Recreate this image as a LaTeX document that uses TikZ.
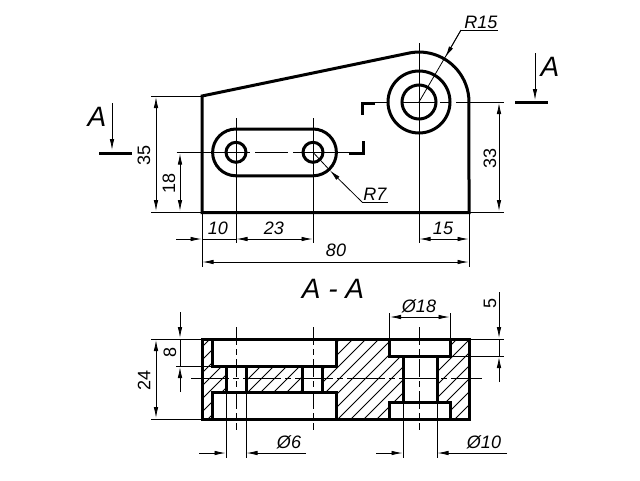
\documentclass[tikz,border=0pt]{standalone}
\usepackage{fontspec}
\setmainfont{Liberation Sans}
\usetikzlibrary{arrows.meta}

\tikzset{
	thick line/.style={line width=3},
	thin line/.style={line width=0.8},
	axis line/.style={line width=0.8, dash pattern=on 18 off 4 on 6 off 4},
	dim line/.style={line width=0.8, -{Latex[length=11,width=4.5]}},
	dim both/.style={line width=0.8, {Latex[length=11,width=4.5]}-{Latex[length=11,width=4.5]}},
	dim text/.style={font=\fontsize{18}{18}\selectfont\itshape, inner sep=0},
	side text/.style={font=\fontsize{18}{18}\selectfont, inner sep=0, rotate=90},
	view text/.style={font=\fontsize{28}{28}\selectfont\itshape, inner sep=0},
}

\begin{document}
\begin{tikzpicture}[x=1pt, y=-1pt]

\useasboundingbox (0,0) rectangle (640,480);
\fill[white] (0,0) rectangle (640,480);

% front view
\draw[thick line] (202,96)--(410.3,52.8) arc[start angle=-100, end angle=0, radius=50]
	--(469,212.5)--(202,212.5)--cycle;

\draw[thick line] (419,102) circle[radius=31];
\draw[thick line] (419,102) circle[radius=17];

\draw[thick line] (236,129)--(313,129) arc[start angle=-90, end angle=90, radius=23.4]
	--(236,175.8) arc[start angle=-270, end angle=-90, radius=23.4]--cycle;

\foreach \a in {236,313}{
	\draw[thick line] (\a,152.3) circle[radius=10];
	\draw[thin line] (\a,118)--(\a,243);
}

\draw[thin line] (419,43)--(419,243);

\draw[thin line] (176.5,152.3)--(250,152.3);
\draw[thin line] (255,152.3)--(288,152.3);
\draw[thin line] (293,152.3)--(349,152.3);
\draw[thin line] (375,102)--(388,102);
\draw[thin line] (401,102)--(437,102);
\draw[thin line] (440,102)--(450,102);
\draw[thin line] (456,102)--(504,102);

% section marks
\draw[thick line] (375,103)--(362.5,103)--(362.5,115);
\draw[thick line] (363,141)--(363,153)--(349,153);
\draw[thick line] (99,153)--(132,153);
\draw[thick line] (515,102.5)--(548,102.5);
\draw[dim line] (112,103)--(112,150);
\draw[dim line] (535,53)--(535,100);
\node[view text] (markleft) at (97,117) {A};
\node[view text] (markright) at (550,67) {A};
\node[view text] (viewtitle) at (333,289) {A - A};

% dimensions of the front view
\foreach \y in {96,212.5}
	\draw[thin line] (151,\y)--(202,\y);
\draw[thin line] (469,212.5)--(504,212.5);
\foreach \x in {202,469}
	\draw[thin line] (\x,212.5)--(\x,267);

\draw[dim both] (156,97)--(156,211);
\draw[dim both] (180,153.5)--(180,211);
\draw[dim both] (499,103)--(499,211);
\draw[dim both] (202.5,262)--(468.5,262);
\draw[dim both] (419.5,239)--(468.5,239);
\draw[dim both] (236.5,239)--(312.5,239);
\draw[dim line] (176,239)--(201.5,239);
\draw[thin line] (201.5,239)--(236.5,239);

\node[side text] (dimleft) at (144,155) {35};
\node[side text] (dimhole) at (169,183) {18};
\node[side text] (dimright) at (490,158) {33};
\node[dim text] (dimten) at (218,228) {10};
\node[dim text] (dimpitch) at (274,228) {23};
\node[dim text] (dimend) at (443,228) {15};
\node[dim text] (dimlength) at (336,250) {80};

\draw[dim line] (461,30)--(445.5,57);
\draw[thin line] (461,30)--(419,102);
\draw[thin line] (461,30)--(498,30);
\node[dim text] (radbig) at (481,22.5) {R15};

\draw[dim line] (362,202)--(330,170.5);
\draw[thin line] (330,170.5)--(313,152.3);
\draw[thin line] (362,202)--(388,202);
\node[dim text] (radsmall) at (375,194) {R7};

% section view
\begin{scope}
	\clip (202,339) rectangle (469,419);
	\foreach \a in {130,143,...,470}
		\draw[thin line] (\a,419)--(\a+80,339);
\end{scope}

\foreach \a/\b/\c/\d in {212/339/336/366, 212/392/336/419, 226/366/246/392, 302/366/322/392,
	389/339/450/356, 389/402/450/419, 403/356/437/402}{
	\fill[white] (\a,\b) rectangle (\c,\d);
	\draw[thick line] (\a,\b) rectangle (\c,\d);
}
\draw[thick line] (202,339) rectangle (469,419);

\draw[thin line, dash pattern=on 38 off 4 on 6 off 4] (191,378)--(482,378);
\foreach \a in {236,313,419}
	\draw[axis line] (\a,327)--(\a,430);

% dimensions of the section
\foreach \y in {339,419}
	\draw[thin line] (151,\y)--(202,\y);
\draw[thin line] (176,366)--(212,366);
\draw[thin line] (469,339)--(504,339);
\draw[thin line] (450,356)--(504,356);

\draw[dim both] (156,340)--(156,418);
\draw[thin line] (180,339)--(180,366);
\draw[dim line] (180,312)--(180,338);
\draw[dim line] (180,392)--(180,367);
\draw[thin line] (499,339)--(499,356);
\draw[dim line] (499,292)--(499,338);
\draw[dim line] (499,382)--(499,357);

\foreach \x in {226,246,403,437}
	\draw[thin line] (\x,392)--(\x,458);
\foreach \x in {389.5,450}
	\draw[thin line] (\x,313)--(\x,339);

\draw[dim both] (390,317)--(449.5,317);
\draw[dim line] (199,453)--(225.5,453);
\draw[dim line] (306,453)--(246.5,453);
\draw[dim line] (376,453)--(402.5,453);
\draw[dim line] (507,453)--(437.5,453);

\node[side text] (dimthick) at (144,380) {24};
\node[side text] (dimdeep) at (170,352) {8};
\node[side text] (dimshallow) at (490,303) {5};
\node[dim text] (dimsmall) at (289,442) {Ø6};
\node[dim text] (dimwide) at (419,306) {Ø18};
\node[dim text] (dimbore) at (484,442) {Ø10};

\end{tikzpicture}
\end{document}
